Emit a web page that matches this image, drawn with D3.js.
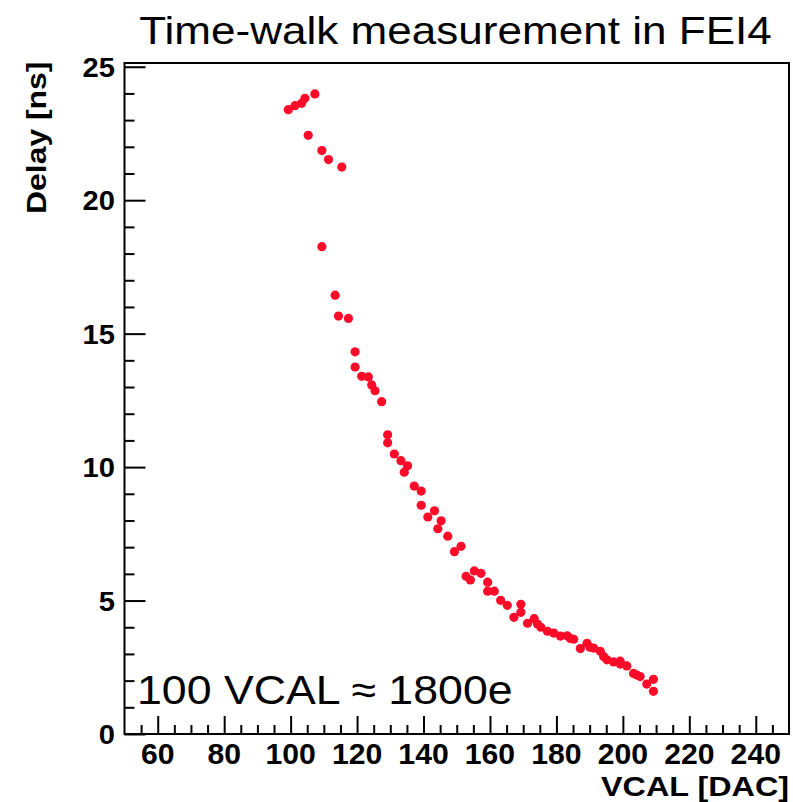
<!DOCTYPE html>
<html>
<head>
<meta charset="utf-8">
<script src="https://cdn.jsdelivr.net/npm/d3@7"></script>
<style>
  body { margin: 0; background: #fff; }
  svg { display: block; font-family: "Liberation Sans", Arial, sans-serif; }
</style>
</head>
<body>
<svg id="chart" width="793" height="802"></svg>
<script>
// VCAL [DAC] and delay [ns]
const vcal = [99.3, 101.3, 103.3, 104.3, 107.3, 105.3, 109.4, 111.4, 115.4, 109.4,
  113.4, 114.4, 117.4, 119.4, 119.4, 121.4, 123.4, 124.4, 125.4, 127.4,
  129.2, 129.2, 131.2, 133.2, 135.2, 134.2, 137.2, 139.3, 139.3, 143.3,
  141.3, 145.3, 144.3, 147.3, 151.3, 149.3, 155.3, 157.3, 152.8, 154.1,
  159.3, 159.3, 161.3, 163.2, 165.2, 169.3, 169.3, 167.2, 171.3, 173.3,
  174.3, 175.3, 177.3, 179.2, 181.2, 183.2, 184.2, 185.2, 187.2, 189.2,
  190.1, 191.2, 193.2, 194.2, 195.2, 197.2, 199.2, 199.2, 201.2, 203.2,
  204.2, 205.2, 207.2, 209.2, 209.2];
const delay = [23.39, 23.54, 23.63, 23.82, 23.98, 22.43, 21.86, 21.52, 21.24, 18.26,
  16.44, 15.66, 15.57, 14.32, 13.75, 13.40, 13.38, 13.08, 12.86, 12.45,
  11.21, 10.91, 10.49, 10.24, 10.05, 9.81, 9.29, 9.10, 8.57, 8.36,
  8.13, 7.99, 7.69, 7.41, 7.03, 6.83, 6.11, 6.02, 5.91, 5.77,
  5.69, 5.35, 5.35, 5.01, 4.82, 4.86, 4.56, 4.37, 4.15, 4.32,
  4.12, 4.00, 3.85, 3.78, 3.67, 3.68, 3.58, 3.55, 3.20, 3.40,
  3.25, 3.22, 3.10, 2.90, 2.78, 2.70, 2.73, 2.62, 2.55, 2.27,
  2.21, 2.15, 1.87, 2.05, 1.60];
const xTicks = [60, 80, 100, 120, 140, 160, 180, 200, 220, 240];
const yTicks = [0, 5, 10, 15, 20, 25];

const points = vcal.map((v, i) => ({ x: v, y: delay[i] }));

const svg = d3.select('#chart');
const frameL = 124.5, frameR = 789, frameT = 63, frameB = 734;

const x = d3.scaleLinear().domain([50, 250]).range([frameL, frameR]);
const y = d3.scaleLinear().domain([0, 25.14]).range([frameB, frameT]);

// frame
svg.append('rect')
    .attr('x', frameL).attr('y', frameT)
    .attr('width', frameR - frameL).attr('height', frameB - frameT)
    .attr('fill', 'none').attr('stroke', '#000').attr('stroke-width', 2);

// x axis ticks (drawn upward, ROOT style)
const xMinor = d3.range(55, 250, 5).filter(v => v % 20 !== 0);
const xAxisMajor = d3.axisBottom(x).tickValues(xTicks).tickSize(-18).tickFormat('');
const xAxisMinor = d3.axisBottom(x).tickValues(xMinor).tickSize(-9).tickFormat('');
[xAxisMajor, xAxisMinor].forEach(ax => {
    const g = svg.append('g').attr('transform', `translate(0,${frameB})`).call(ax);
    g.select('.domain').remove();
    g.selectAll('line').attr('stroke', '#000').attr('stroke-width', 2);
});
svg.append('g').selectAll('text')
    .data(xTicks).join('text')
    .attr('transform', d => `translate(${x(d)},764) scale(1.04,1)`)
    .attr('text-anchor', 'middle')
    .attr('font-size', 29).attr('font-weight', 'bold')
    .text(d => d);

// y axis ticks (drawn rightward)
const yMinor = d3.range(1, 25, 1).filter(v => v % 5 !== 0);
const yAxisMajor = d3.axisLeft(y).tickValues(yTicks).tickSize(-21).tickFormat('');
const yAxisMinor = d3.axisLeft(y).tickValues(yMinor).tickSize(-10).tickFormat('');
[yAxisMajor, yAxisMinor].forEach(ax => {
    const g = svg.append('g').attr('transform', `translate(${frameL},0)`).call(ax);
    g.select('.domain').remove();
    g.selectAll('line').attr('stroke', '#000').attr('stroke-width', 2);
});
svg.append('g').selectAll('text')
    .data(yTicks).join('text')
    .attr('transform', d => `translate(115,${y(d) + 10}) scale(1.04,1)`)
    .attr('text-anchor', 'end')
    .attr('font-size', 28).attr('font-weight', 'bold')
    .text(d => d);

// points
svg.append('g').selectAll('circle')
    .data(points).join('circle')
    .attr('cx', d => x(d.x)).attr('cy', d => y(d.y))
    .attr('r', 4.6)
    .attr('fill', '#ff0a28');

// titles
svg.append('text')
    .attr('transform', 'translate(455.5,43.5) scale(1.13,1)')
    .attr('text-anchor', 'middle')
    .attr('font-size', 39)
    .text('Time-walk measurement in FEI4');

svg.append('text')
    .attr('transform', 'translate(789,796) scale(1.155,1)')
    .attr('text-anchor', 'end')
    .attr('font-size', 28).attr('font-weight', 'bold')
    .text('VCAL [DAC]');

svg.append('text')
    .attr('transform', 'translate(45.5,61.5) rotate(-90) scale(1.14,1)')
    .attr('text-anchor', 'end')
    .attr('font-size', 28).attr('font-weight', 'bold')
    .text('Delay [ns]');

svg.append('text')
    .attr('transform', 'translate(137,704) scale(1.09,1)')
    .attr('font-size', 41)
    .text('100 VCAL ≈ 1800e');
</script>
</body>
</html>
